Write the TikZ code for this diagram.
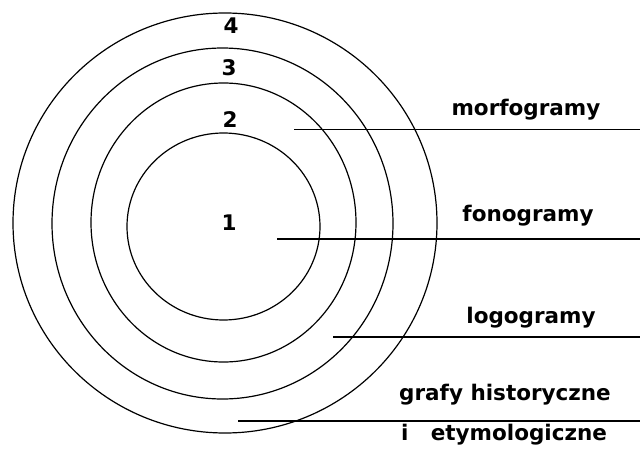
\documentclass[tikz,border=0pt]{standalone}
\usepackage{fontspec}
\setmainfont{DejaVu Sans}
\begin{document}
\begin{tikzpicture}[x=1pt,y=-1pt,line width=1.2pt,
  lbl/.style={font=\bfseries\fontsize{21.5}{24}\selectfont,anchor=base,inner sep=0pt}]
\useasboundingbox (0,0) rectangle (641,450);
% rings 1..4
\foreach \cx/\cy/\rx/\ry in {223.5/226.5/96.5/93.5, 223.5/222.5/132.5/139.5,
  222.5/223.5/170.5/175.5, 225/223/212/210}
  \draw (\cx,\cy) ellipse [x radius=\rx pt, y radius=\ry pt];
\node[lbl] (n1) at (229,230.5) {1};
\node[lbl] (n2) at (230,127) {2};
\node[lbl] (n3) at (229,75) {3};
\node[lbl] (n4) at (231,33) {4};
% labels with their lines
\node[lbl] (morf) at (526,115) {morfogramy};
\node[lbl] (fono) at (528,221.7) {fonogramy};
\node[lbl] (logo) at (531,323.3) {logogramy};
\node[lbl] (graf) at (505,400) {grafy historyczne};
\node[lbl] (etym) at (504,440) {i\ \ \ etymologiczne};
\coordinate (morf-l) at (294,129.5);
\coordinate (fono-l) at (277,239);
\coordinate (logo-l) at (333,337);
\coordinate (graf-l) at (238,421);
\foreach \a in {morf,fono,logo,graf}
  \draw (\a-l) -- (\a-l -| 640,0);
\end{tikzpicture}
\end{document}
